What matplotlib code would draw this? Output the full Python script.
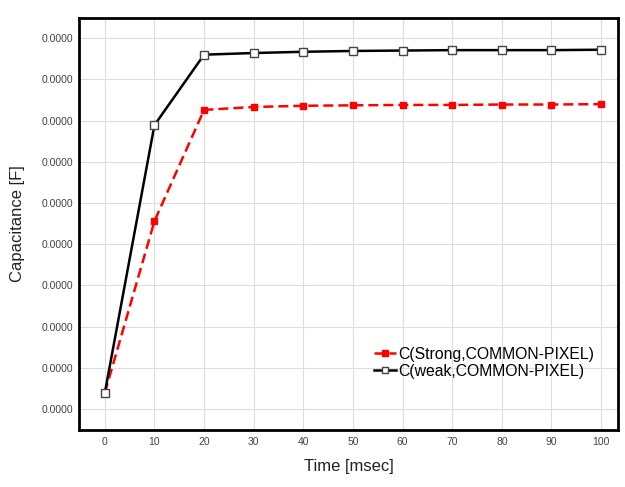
import matplotlib
matplotlib.use("Agg")
import matplotlib.pyplot as plt
from matplotlib.ticker import FuncFormatter

plt.rcParams["font.family"] = ["Liberation Sans", "DejaVu Sans"]

# capacitance vs time (values in units of 1e-14 F)
time_ms = [0, 10, 20, 30, 40, 50, 60, 70, 80, 90, 100]
c_strong = [0.39, 4.56, 7.26, 7.33, 7.36, 7.37, 7.38, 7.38, 7.39, 7.39, 7.40]
c_weak = [0.39, 6.89, 8.60, 8.64, 8.67, 8.69, 8.70, 8.71, 8.71, 8.71, 8.72]
unit = 1e-14
y_ticks = [i * unit for i in range(10)]

fig = plt.figure(figsize=(6.25, 4.87), dpi=100)
ax = fig.add_axes([79 / 625, 57 / 487, 539 / 625, 412 / 487])

ax.plot(time_ms, [v * unit for v in c_strong], color="#ff0000", lw=1.8,
        ls=(0, (4, 2)), marker="s", ms=5, mfc="#ff0000", mec="#ff0000",
        label="C(Strong,COMMON-PIXEL)", zorder=3)
ax.plot(time_ms, [v * unit for v in c_weak], color="black", lw=1.8,
        marker="s", ms=6, mfc="white", mec="#444444", mew=1,
        label="C(weak,COMMON-PIXEL)", zorder=4)

ax.set_xlim(-5.2, 103.4)
ax.set_ylim(-0.51 * unit, 9.49 * unit)
ax.set_xticks(time_ms)
ax.set_yticks(y_ticks)
ax.yaxis.set_major_formatter(FuncFormatter(lambda v, p: f"{v:.4f}"))
ax.tick_params(length=0, labelsize=7.5, colors="#444444", pad=4)
ax.tick_params(axis="x", pad=5)
ax.grid(True, color="#dddddd", lw=0.8)
ax.set_axisbelow(True)
for s in ax.spines.values():
    s.set_linewidth(2)

ax.set_xlabel("Time [msec]", fontsize=12, color="#222222", labelpad=9)
ax.set_ylabel("Capacitance [F]", fontsize=12, color="#222222", labelpad=12)

leg = ax.legend(loc="lower right", bbox_to_anchor=(0.97, 0.105), frameon=False,
                fontsize=11.3, handlelength=1.4, handletextpad=0.15,
                labelspacing=0.15, borderpad=0, markerscale=0.8)

fig.savefig("out.png", dpi=100)
